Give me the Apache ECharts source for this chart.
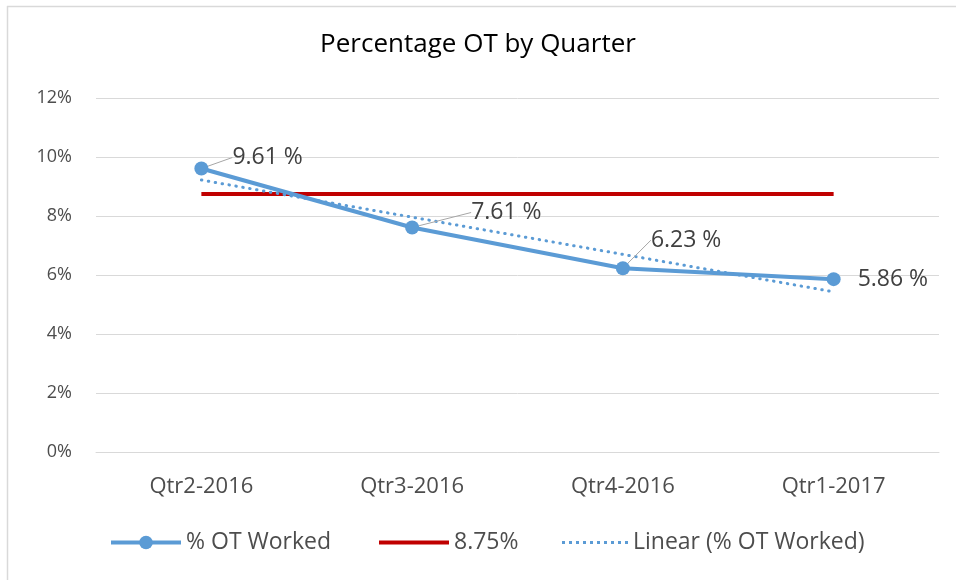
<!DOCTYPE html>
<html>
<head>
<meta charset="utf-8">
<title>Percentage OT by Quarter</title>
<script src="https://cdn.jsdelivr.net/npm/echarts@6/dist/echarts.min.js"></script>
<style>
  html, body { margin: 0; padding: 0; background: #fff; }
  #chart { width: 956px; height: 580px; }
</style>
</head>
<body>
<div id="chart"></div>
<script>
  // data
  var quarters = ['Qtr2-2016', 'Qtr3-2016', 'Qtr4-2016', 'Qtr1-2017'];
  var otWorked = [9.61, 7.61, 6.23, 5.86];
  var target = [8.75, 8.75, 8.75, 8.75];
  var linearTrend = [9.22, 7.96, 6.70, 5.43];
  var yTicks = [0, 2, 4, 6, 8, 10, 12];

  // label moves for each point (leader line only on first three)
  var labelMoves = [[19, -11], [47, -15], [16, -28], [12, 0]];

  var font = '"Open Sans", sans-serif';
  var blue = '#5b9bd5';
  var red = '#c00000';
  var textGrey = '#4d4d4d';
  var dots = 'path://M0,0h3v3h-3z M7,0h3v3h-3z M14,0h3v3h-3z M21,0h3v3h-3z M28,0h3v3h-3z' +
             ' M35,0h3v3h-3z M42,0h3v3h-3z M49,0h3v3h-3z M56,0h3v3h-3z M63,0h3v3h-3z';

  var legendText = { color: textGrey, fontSize: 23, fontFamily: font };

  var chart = echarts.init(document.getElementById('chart'));
  var option = {
    animation: false,
    textStyle: { fontFamily: font },
    title: {
      text: 'Percentage OT by Quarter',
      left: 'center',
      top: 27,
      padding: [5, 0, 5, 12],
      textStyle: { fontFamily: font, fontSize: 26, fontWeight: 'normal', color: '#000' }
    },
    grid: { left: 96, right: 17, top: 98, bottom: 128 },
    xAxis: {
      type: 'category',
      data: quarters,
      axisLine: { lineStyle: { color: '#d9d9d9', width: 1 } },
      axisTick: { show: false },
      axisLabel: { color: textGrey, fontSize: 22, margin: 24, fontFamily: font }
    },
    yAxis: {
      type: 'value',
      min: yTicks[0],
      max: yTicks[yTicks.length - 1],
      interval: 2,
      axisLine: { show: false },
      axisTick: { show: false },
      splitLine: { lineStyle: { color: '#d9d9d9', width: 1 } },
      axisLabel: { color: textGrey, fontSize: 18, margin: 24, formatter: '{value}%', fontFamily: font }
    },
    legend: [
      {
        left: 109, top: 531, padding: 0,
        itemWidth: 70, itemHeight: 17,
        textStyle: legendText,
        data: [{ name: '% OT Worked', lineStyle: { width: 4, color: blue } }]
      },
      {
        left: 379, top: 531, padding: 0,
        itemWidth: 70, itemHeight: 4,
        textStyle: legendText,
        data: [{ name: '8.75%', icon: 'rect', itemStyle: { color: red } }]
      },
      {
        left: 562, top: 531, padding: 0,
        itemWidth: 66, itemHeight: 3,
        textStyle: legendText,
        data: [{ name: 'Linear (% OT Worked)', icon: dots, itemStyle: { color: blue } }]
      }
    ],
    graphic: [
      { type: 'line', shape: { x1: 7, y1: 6.5, x2: 956, y2: 6.5 }, style: { stroke: '#d9d9d9', lineWidth: 1.5 } },
      { type: 'line', shape: { x1: 7.5, y1: 6, x2: 7.5, y2: 580 }, style: { stroke: '#d9d9d9', lineWidth: 1.5 } }
    ],
    series: [
      {
        name: '8.75%',
        type: 'line',
        data: target,
        symbol: 'none',
        lineStyle: { color: red, width: 4 },
        itemStyle: { color: red },
        z: 2
      },
      {
        name: 'Linear (% OT Worked)',
        type: 'line',
        data: linearTrend,
        symbol: 'none',
        lineStyle: { color: blue, width: 3, type: [0.5, 6.5], cap: 'round' },
        itemStyle: { color: blue },
        z: 3
      },
      {
        name: '% OT Worked',
        type: 'line',
        data: otWorked.map(function (v, i) {
          return { value: v, labelLine: { show: i < 3 } };
        }),
        symbol: 'circle',
        symbolSize: 14,
        lineStyle: { color: blue, width: 4 },
        itemStyle: { color: blue },
        z: 4,
        label: {
          show: true,
          position: 'right',
          color: '#404040',
          fontSize: 23,
          fontFamily: font,
          formatter: function (p) { return p.value.toFixed(2) + ' %'; }
        },
        labelLine: {
          show: true,
          lineStyle: { color: '#a6a6a6', width: 1 }
        },
        labelLayout: function (p) {
          var m = labelMoves[p.dataIndex];
          return { dx: m[0], dy: m[1] };
        }
      }
    ]
  };
  chart.setOption(option);
</script>
</body>
</html>
